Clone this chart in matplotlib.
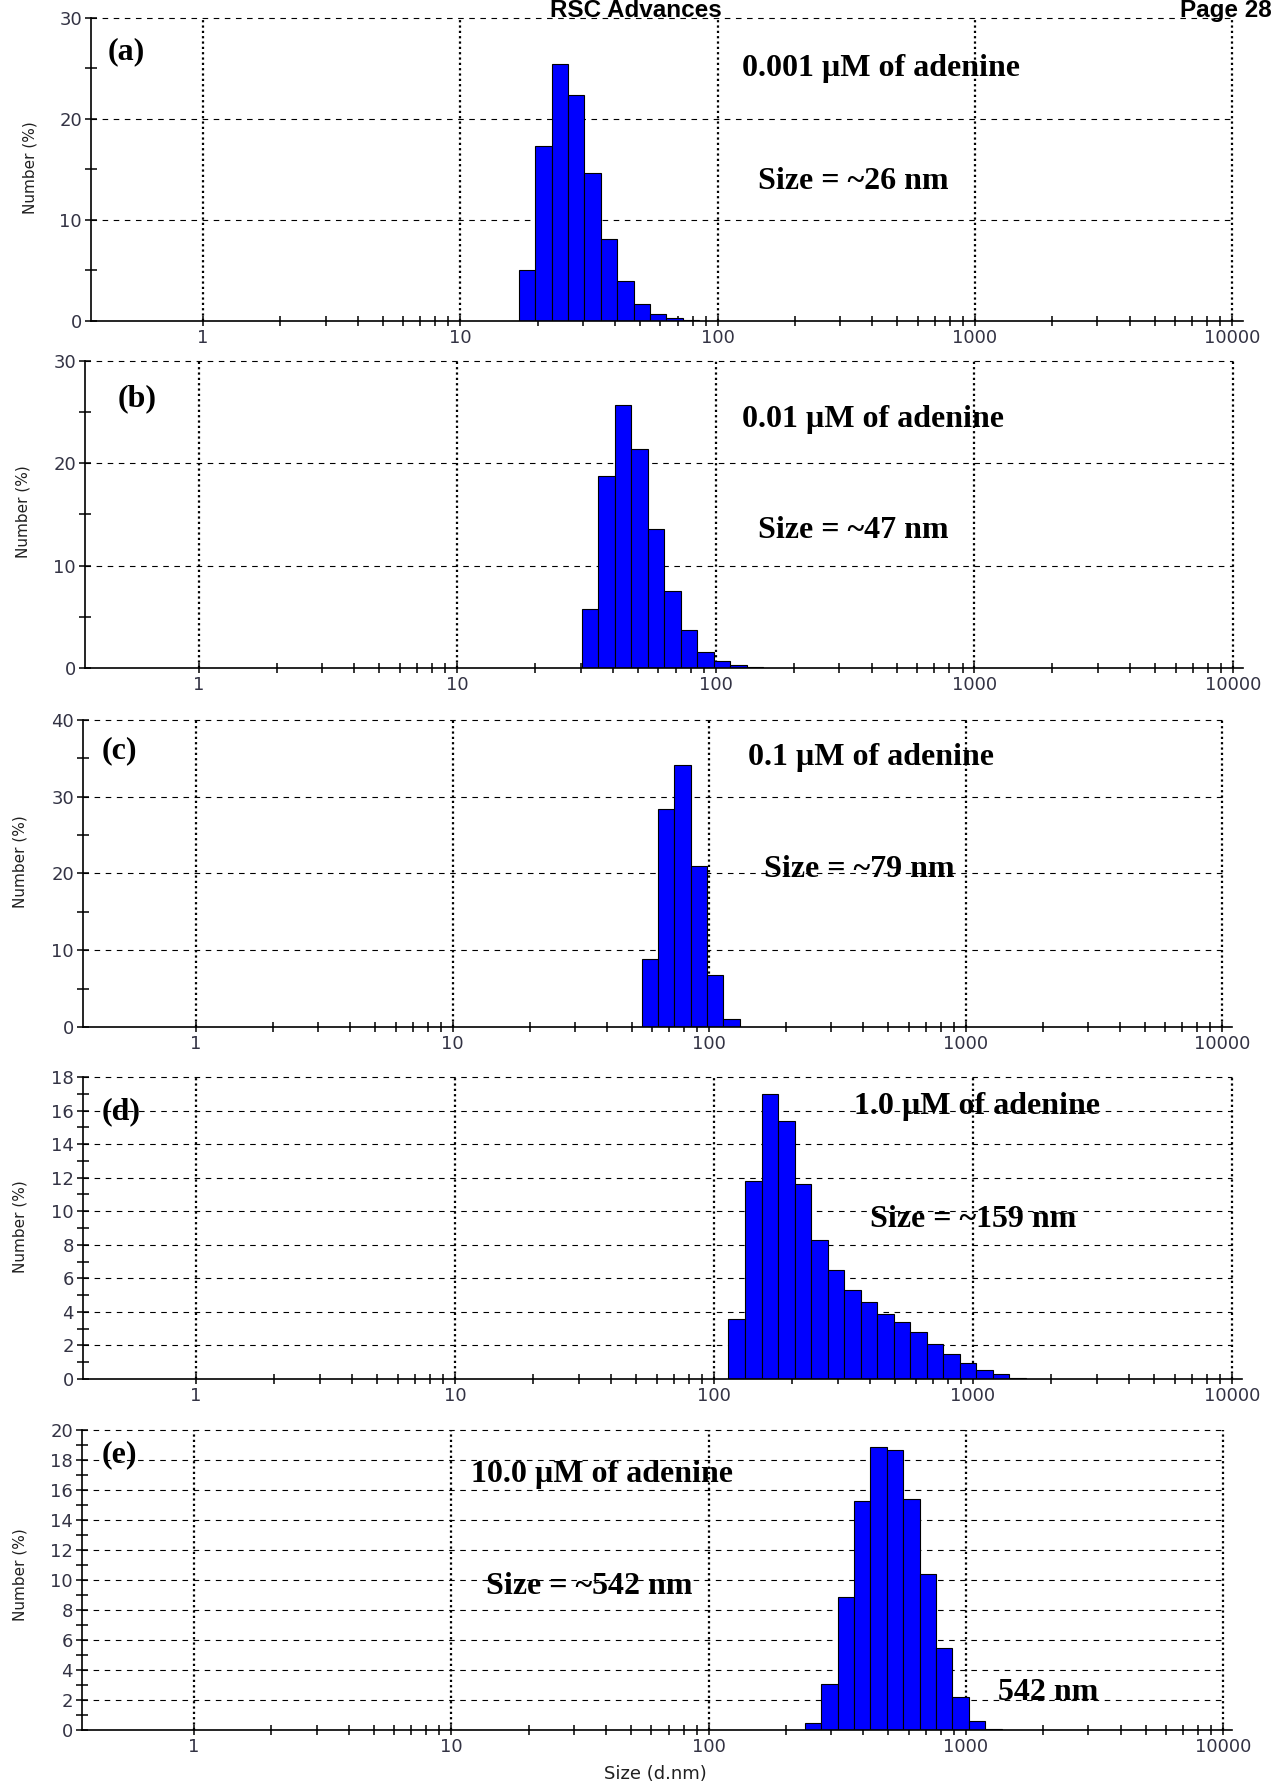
import matplotlib
matplotlib.use("Agg")
import matplotlib.pyplot as plt
from matplotlib.ticker import FixedLocator, NullFormatter, MultipleLocator

W, H, DPI = 1273, 1785, 100

# ---------------- data (size class centres in d.nm, Number %) ----------------
a_sizes = [18.17, 21.04, 24.36, 28.21, 32.67, 37.84, 43.82, 50.75, 58.77, 68.06, 78.82]
a_vals = [5.0, 17.3, 25.4, 22.4, 14.7, 8.1, 4.0, 1.7, 0.7, 0.3, 0.1]

b_sizes = [32.67, 37.84, 43.82, 50.75, 58.77, 68.06, 78.82, 91.28, 105.7, 122.4, 141.8]
b_vals = [5.8, 18.8, 25.7, 21.4, 13.6, 7.5, 3.7, 1.6, 0.65, 0.3, 0.07]

c_sizes = [58.77, 68.06, 78.82, 91.28, 105.7, 122.4]
c_vals = [8.9, 28.4, 34.2, 21.0, 6.8, 1.0]

d_sizes = [122.4, 141.8, 164.2, 190.1, 220.2, 255.0, 295.3, 342.0, 396.1,
           458.7, 531.2, 615.1, 712.4, 825.0, 955.4, 1106, 1281, 1484]
d_vals = [3.6, 11.8, 17.0, 15.4, 11.6, 8.3, 6.5, 5.3, 4.6,
          3.9, 3.4, 2.8, 2.1, 1.5, 0.95, 0.52, 0.28, 0.06]

e_sizes = [255.0, 295.3, 342.0, 396.1, 458.7, 531.2, 615.1, 712.4, 825.0, 955.4, 1106, 1281]
e_vals = [0.44, 3.1, 8.9, 15.3, 18.9, 18.7, 15.4, 10.4, 5.5, 2.2, 0.6, 0.07]

panel_letters = ["(a)", "(b)", "(c)", "(d)", "(e)"]
conc_labels = ["0.001 \u00b5M of adenine", "0.01 \u00b5M of adenine", "0.1 \u00b5M of adenine",
               "1.0 \u00b5M of adenine", "10.0 \u00b5M of adenine"]
size_labels = ["Size = ~26 nm", "Size = ~47 nm", "Size = ~79 nm",
               "Size = ~159 nm", "Size = ~542 nm"]
y_max = [30, 30, 40, 18, 20]
y_major = [10, 10, 10, 2, 2]
y_minor = [5, 5, 5, 1, 1]
x_tick_vals = [1, 10, 100, 1000, 10000]
x_tick_labels = ["1", "10", "100", "1000", "10000"]

# bin ratio of the instrument's log-spaced size classes
BIN_RATIO = 25000 ** (1 / 69)
HALF = BIN_RATIO ** 0.5

# ---------------- layout (pixels) ----------------
layout = [
    dict(xl=91, x1=203, x4=1232, xr=1243, top=18, bot=321),
    dict(xl=85, x1=198.7, x4=1233, xr=1243, top=361, bot=668),
    dict(xl=83, x1=196, x4=1222, xr=1232, top=720, bot=1027),
    dict(xl=83, x1=196, x4=1232, xr=1242, top=1077, bot=1379),
    dict(xl=82, x1=194, x4=1223, xr=1232, top=1430, bot=1730),
]
letter_pos = [(108, 59), (118, 406), (102, 758), (102, 1119), (102, 1462)]
conc_pos = [(742, 76), (742, 427), (748, 765), (854, 1114), (471, 1482)]
size_pos = [(758, 189), (758, 538), (764, 877), (870, 1227), (486, 1594)]
ylabel_pos = [(30, 168), (23, 512), (20, 862), (20, 1227), (20, 1575)]

all_sizes = [a_sizes, b_sizes, c_sizes, d_sizes, e_sizes]
all_vals = [a_vals, b_vals, c_vals, d_vals, e_vals]

fig = plt.figure(figsize=(W / DPI, H / DPI), dpi=DPI)
fig.patch.set_facecolor("white")

TICK_COLOR = "#333344"
serif = ["Liberation Serif", "DejaVu Serif"]
serif_size = 23

for i in range(5):
    L = layout[i]
    dec = (L["x4"] - L["x1"]) / 4.0
    xmin = 10 ** ((L["xl"] - L["x1"]) / dec)
    xmax = 10 ** (4 + (L["xr"] - L["x4"]) / dec)
    ax = fig.add_axes([L["xl"] / W, 1 - L["bot"] / H,
                       (L["xr"] - L["xl"]) / W, (L["bot"] - L["top"]) / H])
    ax.set_xscale("log")
    ax.set_xlim(xmin, xmax)
    ax.set_ylim(0, y_max[i])
    ax.set_facecolor("white")

    sizes = all_sizes[i]
    vals = all_vals[i]
    lefts = [s / HALF for s in sizes]
    widths = [s * HALF - s / HALF for s in sizes]
    ax.bar(lefts, vals, width=widths, align="edge", color="#0000ff",
           edgecolor="black", linewidth=0.8, zorder=3)

    # grid: dashed horizontals, dotted verticals at decades
    yv = y_major[i]
    while yv <= y_max[i] + 1e-9:
        ax.plot([xmin, 10000], [yv, yv], color="black", lw=0.8,
                ls=(0, (5, 5)), zorder=1, clip_on=False)
        yv += y_major[i]
    for d in x_tick_vals:
        ax.plot([d, d], [0, y_max[i]], color="black", lw=1.6,
                ls=(0, (1, 1.4)), zorder=1, clip_on=False,
                dash_capstyle="butt")

    for s in ["top", "right"]:
        ax.spines[s].set_visible(False)
    for s in ["left", "bottom"]:
        ax.spines[s].set_linewidth(1.2)
        ax.spines[s].set_color("black")
        ax.spines[s].set_zorder(4)

    ax.xaxis.set_major_locator(FixedLocator(x_tick_vals))
    ax.xaxis.set_minor_locator(FixedLocator([k * 10 ** n for n in range(4) for k in range(2, 10)]))
    ax.xaxis.set_minor_formatter(NullFormatter())
    ax.set_xticklabels(x_tick_labels)
    ax.yaxis.set_major_locator(MultipleLocator(y_major[i]))
    ax.yaxis.set_minor_locator(MultipleLocator(y_minor[i]))

    ax.tick_params(axis="x", which="both", direction="inout", length=7,
                   width=1.1, color="black", pad=2.5)
    ax.tick_params(axis="y", which="both", direction="inout", length=8,
                   width=1.1, color="black", pad=2.5)
    for lab in ax.get_xticklabels() + ax.get_yticklabels():
        lab.set_fontfamily("DejaVu Sans")
        lab.set_fontsize(13)
        lab.set_color(TICK_COLOR)

    # annotations
    lx, ly = letter_pos[i]
    fig.text(lx / W, 1 - ly / H, panel_letters[i], family=serif, fontsize=serif_size,
             fontweight="bold", ha="left", va="baseline")
    cx, cy = conc_pos[i]
    fig.text(cx / W, 1 - cy / H, conc_labels[i], family=serif, fontsize=serif_size,
             fontweight="bold", ha="left", va="baseline")
    sx, sy = size_pos[i]
    fig.text(sx / W, 1 - sy / H, size_labels[i], family=serif, fontsize=serif_size,
             fontweight="bold", ha="left", va="baseline")
    yx, yy = ylabel_pos[i]
    fig.text(yx / W, 1 - yy / H, "Number (%)", family="DejaVu Sans",
             fontsize=11, rotation=90, ha="center", va="center", color="#202020")

# extra peak label in panel (e)
fig.text(998 / W, 1 - 1700 / H, "542 nm", family=serif, fontsize=serif_size,
         fontweight="bold", ha="left", va="baseline")

# page header and x-axis label
fig.text(550 / W, 1 - 17 / H, "RSC Advances", family=["Liberation Sans", "DejaVu Sans"],
         fontsize=17.5, fontweight="bold", ha="left", va="baseline")
fig.text(1180 / W, 1 - 17 / H, "Page 28", family=["Liberation Sans", "DejaVu Sans"],
         fontsize=17.5, fontweight="bold", ha="left", va="baseline")
fig.text(655 / W, 1 - 1774 / H, "Size (d.nm)", family="DejaVu Sans",
         fontsize=13, ha="center", va="center", color="#202020")

fig.savefig("out.png", dpi=DPI, facecolor="white")
